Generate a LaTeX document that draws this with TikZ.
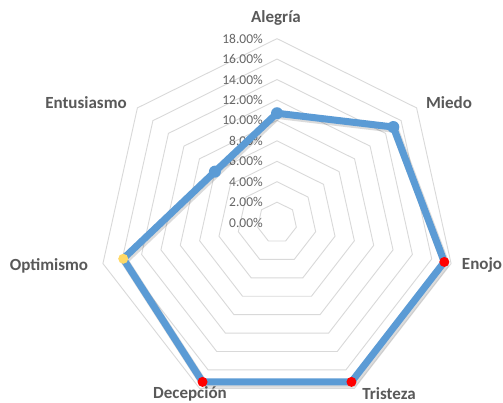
\documentclass[tikz,border=0pt]{standalone}
\usepackage{fontspec}
\setmainfont{Carlito}
\usetikzlibrary{calc}
\definecolor{gridc}{HTML}{D9D9D9}
\definecolor{txtc}{HTML}{595959}
\definecolor{tickc}{HTML}{666666}
\definecolor{serblue}{HTML}{5B9BD5}
\definecolor{dotred}{HTML}{FF0000}
\definecolor{dotyel}{HTML}{FFD966}
\tikzset{
  gridline/.style={draw=gridc, line width=0.9pt, line join=miter},
  axislabel/.style={text=txtc, font=\fontsize{17}{17}\selectfont\bfseries, inner sep=0pt},
  ticklabel/.style={text=tickc, font=\fontsize{13.5}{14}\selectfont, inner sep=0pt, anchor=east},
  serline/.style={draw=serblue, line width=7pt, line join=round},
  sershadow/.style={draw=black, opacity=0.14, line width=8pt, line join=round},
  dot/.style={circle, minimum size=10pt, inner sep=0pt, draw=none},
  bluedot/.style={dot, fill=serblue, minimum size=12pt},
  reddot/.style={dot, fill=dotred},
  yeldot/.style={dot, fill=dotyel},
}
\newcommand{\cx}{277}
\newcommand{\cyy}{222.6}
\newcommand{\kx}{9.92}
\newcommand{\ky}{10.22}
\begin{document}
\begin{tikzpicture}[x=1pt,y=-1pt]
\useasboundingbox[fill=white] (0,0) rectangle (503,403);
% grid rings
\foreach \r in {2,4,...,18}{
  \draw[gridline] ({\cx+\kx*\r*cos(90)},{\cyy-\ky*\r*sin(90)})
    \foreach \k in {1,...,6}{ -- ({\cx+\kx*\r*cos(90-\k*360/7)},{\cyy-\ky*\r*sin(90-\k*360/7)}) } -- cycle;
}
% tick labels
\foreach \v [count=\i] in {0,2,...,18}{
  \node[ticklabel] (tick\i) at (263,{\cyy-\ky*\v}) {\v.00\%};
}
% data points
\coordinate (pA) at ({\cx+\kx*10.7*cos(90)},{\cyy-\ky*10.7*sin(90)});
\coordinate (pM) at ({\cx+\kx*15.0*cos(90-1*360/7)},{\cyy-\ky*15.0*sin(90-1*360/7)});
\coordinate (pE) at ({\cx+\kx*17.3*cos(90-2*360/7)},{\cyy-\ky*17.3*sin(90-2*360/7)});
\coordinate (pT) at ({\cx+\kx*17.3*cos(90-3*360/7)},{\cyy-\ky*17.3*sin(90-3*360/7)});
\coordinate (pD) at ({\cx+\kx*17.3*cos(90-4*360/7)},{\cyy-\ky*17.3*sin(90-4*360/7)});
\coordinate (pO) at ({\cx+\kx*15.9*cos(90-5*360/7)},{\cyy-\ky*15.9*sin(90-5*360/7)});
\coordinate (pN) at ({\cx+\kx*8.0*cos(90-6*360/7)},{\cyy-\ky*8.0*sin(90-6*360/7)});
% shadow and series line
\draw[sershadow, transform canvas={shift={(1.2pt,-1.8pt)}}] (pA) -- (pM) -- (pE) -- (pT) -- (pD) -- (pO) -- (pN) -- cycle;
\draw[serline] (pA) -- (pM) -- (pE) -- (pT) -- (pD) -- (pO) -- (pN) -- cycle;
% markers
\node[bluedot] (mA) at (pA) {};
\node[bluedot] (mM) at (pM) {};
\node[reddot] (mE) at (pE) {};
\node[reddot] (mT) at (pT) {};
\node[reddot] (mD) at (pD) {};
\node[yeldot] (mO) at (pO) {};
\node[bluedot] (mN) at (pN) {};
% axis labels
\node[axislabel] (lA) at (276,18) {Alegría};
\node[axislabel] (lM) at (449,103) {Miedo};
\node[axislabel] (lE) at (482,265) {Enojo};
\node[axislabel] (lT) at (389,394) {Tristeza};
\node[axislabel] (lD) at (190,394) {Decepción};
\node[axislabel] (lO) at (49,266) {Optimismo};
\node[axislabel] (lN) at (86,103) {Entusiasmo};
\end{tikzpicture}
\end{document}
